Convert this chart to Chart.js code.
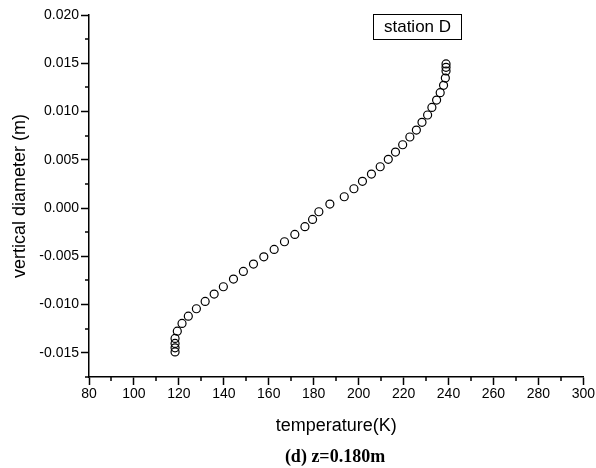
<!DOCTYPE html>
<html>
<head>
<meta charset="utf-8">
<script src="https://cdn.jsdelivr.net/npm/chart.js@4/dist/chart.umd.min.js"></script>
<style>
  html, body { margin: 0; padding: 0; background: #fff; }
  #wrap { width: 596px; height: 468px; }
</style>
</head>
<body>
<div id="wrap"><canvas id="myChart" width="596" height="468"></canvas></div>
<script>
// temperature (K) of each point, bottom to top
const temperature = [118.3, 118.3, 118.3, 118.3, 119.3, 121.4, 124.2, 127.8, 131.7, 135.7,
  139.8, 144.3, 148.7, 153.2, 157.8, 162.4, 167.0, 171.6, 176.1, 179.5,
  182.3, 187.2, 193.6, 197.9, 201.7, 205.7, 209.6, 213.2, 216.4, 219.6,
  222.8, 225.7, 228.2, 230.7, 232.6, 234.7, 236.3, 237.8, 238.6, 238.9,
  238.9, 238.9];
// vertical diameter (m)
const diameter = [-0.0149, -0.01448, -0.01402, -0.0135, -0.01275, -0.01195, -0.0112, -0.01043, -0.00967, -0.00891,
  -0.00815, -0.00736, -0.00656, -0.0058, -0.00505, -0.00428, -0.00349, -0.00273, -0.00193, -0.00118,
  -0.00038, 0.00041, 0.00117, 0.002, 0.00277, 0.00352, 0.00428, 0.00505, 0.0058, 0.00656,
  0.00736, 0.00808, 0.00888, 0.00964, 0.01043, 0.01119, 0.01195, 0.01272, 0.01347, 0.0142,
  0.01458, 0.01493];

const xRange = [80, 300];
const yRange = [-0.0175, 0.020];
const xStep = 10, xMajor = 20;
const yStep = 0.0025, yMajor = 0.005;

const seriesLabel = 'station D';
const xTitle = 'temperature(K)';
const yTitle = 'vertical diameter (m)';
const caption = '(d) z=0.180m';

const points = temperature.map((t, i) => ({ x: t, y: diameter[i] }));

function isMajor(v, major) {
  const r = v / major;
  return Math.abs(r - Math.round(r)) < 1e-6;
}

const sans = '"Liberation Sans", Arial, sans-serif';

// short minor ticks, station box and caption
const extras = {
  id: 'extras',
  afterDraw(chart) {
    const c = chart.ctx;
    const area = chart.chartArea;
    c.save();
    c.strokeStyle = '#000';
    c.lineWidth = 1.5;
    const xs = chart.scales.x, ys = chart.scales.y;
    xs.ticks.forEach(t => {
      if (isMajor(t.value, xMajor)) return;
      const px = Math.round(xs.getPixelForValue(t.value));
      c.beginPath(); c.moveTo(px, area.bottom); c.lineTo(px, area.bottom + 4); c.stroke();
    });
    ys.ticks.forEach(t => {
      if (isMajor(t.value, yMajor)) return;
      const py = Math.round(ys.getPixelForValue(t.value));
      c.beginPath(); c.moveTo(area.left, py); c.lineTo(area.left - 4, py); c.stroke();
    });

    // label box
    c.lineWidth = 1;
    c.strokeRect(area.left + 284.5, area.top - 0.5, 88, 25);
    c.fillStyle = '#000';
    c.font = '17px ' + sans;
    c.textAlign = 'center';
    c.textBaseline = 'middle';
    c.fillText(seriesLabel, area.left + 328.5, area.top + 12.5);

    // caption
    c.font = 'bold 18px "Liberation Serif", "Times New Roman", serif';
    c.fillText(caption, 335, 457);
    c.restore();
  }
};

const ctx = document.getElementById('myChart');

new Chart(ctx, {
  type: 'scatter',
  data: {
    datasets: [{
      label: seriesLabel,
      data: points,
      pointStyle: 'circle',
      pointRadius: 4,
      pointHoverRadius: 4,
      pointBorderWidth: 1.2,
      borderColor: '#000',
      backgroundColor: 'rgba(255,255,255,0)'
    }]
  },
  options: {
    responsive: false,
    animation: false,
    layout: { padding: { left: 0, right: 12, top: 15, bottom: 0 } },
    plugins: {
      legend: { display: false },
      tooltip: { enabled: false }
    },
    scales: {
      x: {
        type: 'linear',
        min: xRange[0],
        max: xRange[1],
        afterFit(scale) { scale.height = 91; },
        border: { display: true, color: '#000', width: 1.5 },
        grid: {
          drawOnChartArea: false,
          drawTicks: true,
          tickLength: 8,
          tickWidth: 1.5,
          tickColor: c => isMajor(c.tick.value, xMajor) ? '#000' : 'rgba(0,0,0,0)'
        },
        ticks: {
          stepSize: xStep,
          autoSkip: false,
          maxRotation: 0,
          padding: 1,
          color: '#000',
          font: { family: sans, size: 14 },
          callback: v => isMajor(v, xMajor) ? String(Math.round(v)) : ''
        },
        title: {
          display: true,
          text: xTitle,
          color: '#000',
          font: { family: sans, size: 18 },
          padding: { top: 0, bottom: 31 }
        }
      },
      y: {
        type: 'linear',
        min: yRange[0],
        max: yRange[1],
        afterFit(scale) { scale.width = 89; },
        border: { display: true, color: '#000', width: 1.5 },
        grid: {
          drawOnChartArea: false,
          drawTicks: true,
          tickLength: 8,
          tickWidth: 1.5,
          tickColor: c => isMajor(c.tick.value, yMajor) ? '#000' : 'rgba(0,0,0,0)'
        },
        ticks: {
          stepSize: yStep,
          autoSkip: false,
          padding: 2,
          color: '#000',
          font: { family: sans, size: 14 },
          callback: v => {
            if (!isMajor(v, yMajor)) return '';
            const n = Math.abs(v) < 1e-9 ? 0 : v;
            return n.toFixed(3);
          }
        },
        title: {
          display: true,
          text: yTitle,
          color: '#000',
          font: { family: sans, size: 18 },
          padding: { top: 9, bottom: 0 }
        }
      }
    }
  },
  plugins: [extras]
});
</script>
</body>
</html>
